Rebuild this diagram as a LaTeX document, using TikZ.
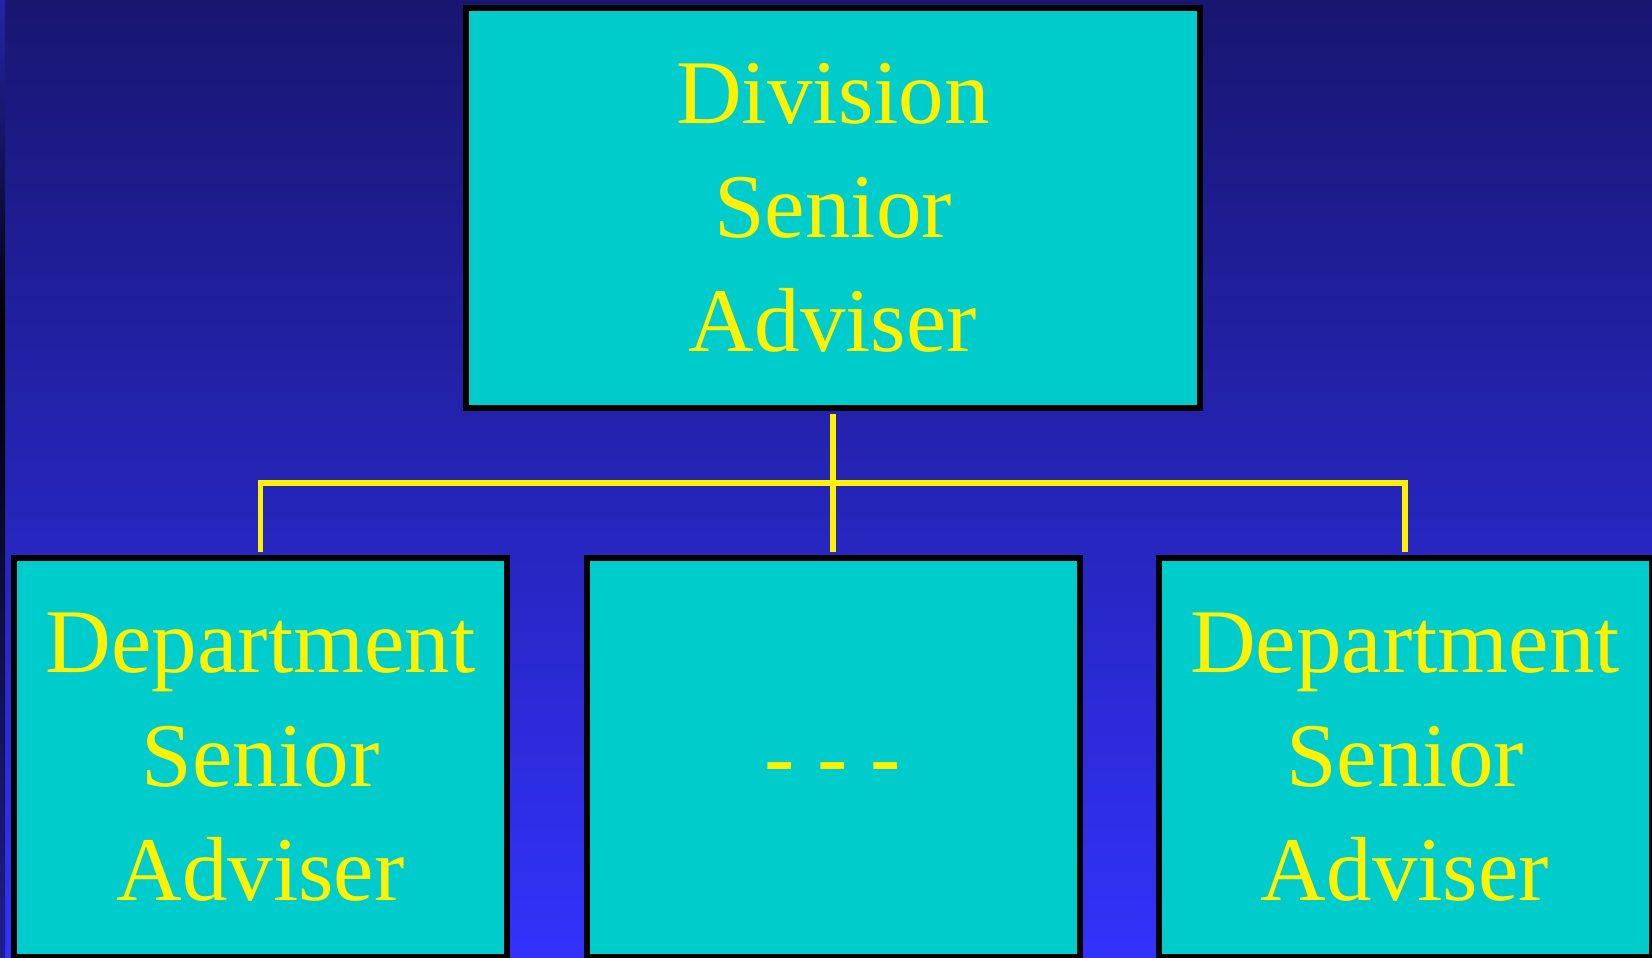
\documentclass[tikz,border=0pt]{standalone}
\usepackage{fontspec}
\setmainfont{Liberation Serif}
\definecolor{bgtop}{RGB}{24,22,112}
\definecolor{bgbot}{RGB}{50,50,252}
\definecolor{boxfill}{RGB}{0,204,204}
\definecolor{edgetop}{RGB}{36,36,170}
\definecolor{edgebot}{RGB}{30,30,140}

\begin{document}
\begin{tikzpicture}[x=0.5pt, y=-0.5pt,
    post/.style={draw=black, line width=3pt, fill=boxfill, text=yellow, align=center,
        font=\fontsize{45.5pt}{57pt}\selectfont, inner sep=0pt},
    bigpost/.style={post, minimum width=367pt, minimum height=200pt},
    smallpost/.style={post, minimum width=246.5pt, minimum height=199.5pt},
    link/.style={yellow, line width=2.8pt, shorten <=1.5pt, shorten >=1.5pt}]
    \useasboundingbox (0, 0) rectangle (1652, 957);
    \shade[top color=bgtop, bottom color=bgbot] (0, 0) rectangle (1652, 957);
    \shade[top color=edgetop, bottom color=black] (0, 0) rectangle (5, 330);
    \shade[top color=black, bottom color=edgebot] (0, 330) rectangle (5, 957);
    \node[bigpost] (division) at (833, 208) {Division\\Senior\\Adviser};
    \node[smallpost] (deptleft) at (260.5, 757.5) {Department\\Senior\\Adviser};
    \node[smallpost, text height=29.5pt, text depth=0pt] (deptmid) at (833, 757.5) {- - -};
    \node[smallpost] (deptright) at (1405, 757.5) {Department\\Senior\\Adviser};
    \coordinate (branch) at (833, 483);
    \draw[link] (division.south) -- (deptmid.north);
    \draw[link] (deptleft.north) |- (branch) -| (deptright.north);
\end{tikzpicture}
\end{document}
